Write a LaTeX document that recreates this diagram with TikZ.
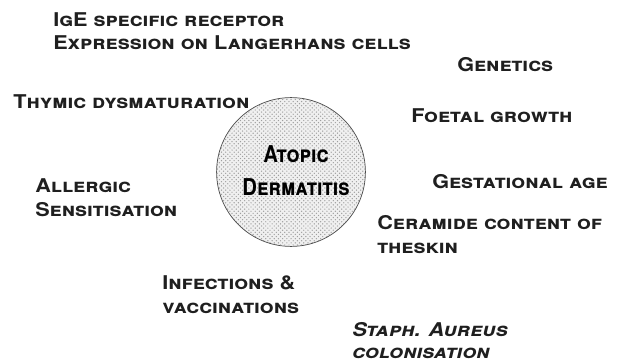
\documentclass[tikz,border=0pt]{standalone}
\usepackage{fontspec}
\setmainfont{TeX Gyre Heros}
\newfontfamily\capsfont[Letters=SmallCaps,FakeStretch=1.14]{TeX Gyre Heros}
\usetikzlibrary{patterns}
\definecolor{inkgray}{gray}{0.12}
\tikzset{
  factor/.style={font=\capsfont\bfseries\fontsize{13.5}{16.5}\selectfont,text=inkgray,
    align=left,anchor=base west,inner sep=0pt},
  core label/.style={font=\capsfont\bfseries\fontsize{16.5}{23}\selectfont,
    text=black,align=center,anchor=base,inner sep=0pt,xscale=.77,transform shape},
  core disc/.style={fill=gray!12,
    postaction={pattern=crosshatch dots,pattern color=gray!75}}
}
\begin{document}
\begin{tikzpicture}[x=0.025cm,y=-0.025cm]
  \useasboundingbox (0,0) rectangle (619,361);

  % central disc
  \coordinate (adc) at (291,172);
  \coordinate (adt) at (296,195);
  \fill[core disc] (adc) circle (1.86cm);
  \draw[gray!60!black,line width=.5pt] (adc) circle (1.86cm);
  \node[core label] (ad) at (adt) {Atopic\\Dermatitis};

  % factors round it (multi-line ones sit on their last baseline)
  \node[factor] (ige) at (53,50) {IgE specific receptor\\Expression on Langerhans cells};
  \node[factor] (thymic) at (13,108) {Thymic dysmaturation};
  \node[factor] (allergic) at (35,216) {Allergic\\Sensitisation};
  \node[factor] (infect) at (162,313) {Infections \&\\vaccinations};
  \node[factor,font=\capsfont\bfseries\itshape\fontsize{13.5}{15}\selectfont] (staph)
    at (352,358) {Staph. Aureus\\colonisation};
  \node[factor] (genetics) at (457,72) {Genetics};
  \node[factor] (foetal) at (411,123) {Foetal growth};
  \node[factor] (gest) at (432,188) {Gestational age};
  \node[factor] (ceramide) at (377,253) {Ceramide content of\\theskin};
\end{tikzpicture}
\end{document}
